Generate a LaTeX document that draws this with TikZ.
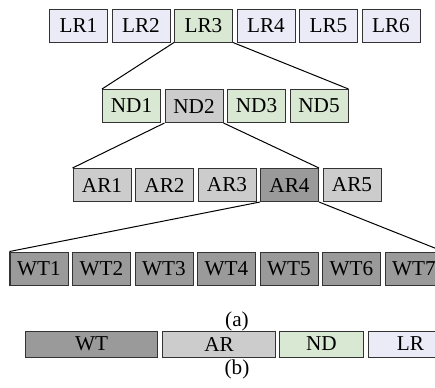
\documentclass[tikz,border=0pt]{standalone}
\usepackage{fontspec}
\setmainfont{Liberation Serif}
\definecolor{lrfill}{HTML}{EBEBF7}
\definecolor{ndfill}{HTML}{D8E8D2}
\definecolor{arfill}{HTML}{CCCCCC}
\definecolor{wtfill}{HTML}{9A9A9A}

\begin{document}
\begin{tikzpicture}[x=0.5pt,y=-0.5pt,line width=0.5pt]
          \tikzstyle{every node}=[font=\fontsize{10.6}{12}\selectfont]
          \tikzstyle{blk}=[draw=black!80,inner sep=0pt,minimum width=29pt,minimum height=16.5pt,node distance=31.25pt]
          \tikzstyle{lr}=[blk,fill=lrfill]
          \tikzstyle{nd}=[blk,fill=ndfill]
          \tikzstyle{ar}=[blk,fill=arfill]
          \tikzstyle{wt}=[blk,fill=wtfill]
          \tikzstyle{key}=[draw=black!80,inner sep=0pt,minimum height=13pt,anchor=west]
          \useasboundingbox (0,0) rectangle (435,387);
          \clip (0,0) rectangle (435,387);
          % 
          \node [lr] (lr1) at (78.5,25.5) {LR1};
          \node [lr] (lr2) [right of=lr1] {LR2};
          \node [nd] (lr3) [right of=lr2] {LR3};
          \node [lr] (lr4) [right of=lr3] {LR4};
          \node [lr] (lr5) [right of=lr4] {LR5};
          \node [lr] (lr6) [right of=lr5] {LR6};
          % 
          \node [nd] (nd1) at (131.5,106) {ND1};
          \node [ar] (nd2) [right of=nd1] {ND2};
          \node [nd] (nd3) [right of=nd2] {ND3};
          \node [nd] (nd5) [right of=nd3] {ND5};
          % 
          \node [ar] (ar1) at (102,185) {AR1};
          \node [ar] (ar2) [right of=ar1] {AR2};
          \node [ar] (ar3) [right of=ar2] {AR3};
          \node [wt] (ar4) [right of=ar3] {AR4};
          \node [ar] (ar5) [right of=ar4] {AR5};
          % 
          \node [wt] (wt1) at (39,268.5) {WT1};
          \node [wt] (wt2) [right of=wt1] {WT2};
          \node [wt] (wt3) [right of=wt2] {WT3};
          \node [wt] (wt4) [right of=wt3] {WT4};
          \node [wt] (wt5) [right of=wt4] {WT5};
          \node [wt] (wt6) [right of=wt5] {WT6};
          \node [wt] (wt7) [right of=wt6] {WT7};
          % 
          \path[draw]
          (lr3.south west) edge (nd1.north west)
          (lr3.south east) edge (nd5.north east)
          (nd2.south west) edge (ar1.north west)
          (nd2.south east) edge (ar4.north east)
          (ar4.south west) edge (wt1.north west)
          (ar4.south east) edge (wt7.north east);
          % 
          \node (capa) at (237,321) {(a)};
          \node [key,fill=wtfill,minimum width=66pt] (kwt) at (25,344) {WT};
          \node [key,fill=arfill,minimum width=56.5pt] (kar) at (162,344) {AR};
          \node [key,fill=ndfill,minimum width=42pt] (knd) at (279,344) {ND};
          \node [key,fill=lrfill,minimum width=42pt] (klr) at (368,344) {LR};
          \node (capb) at (237,369) {(b)};
        \end{tikzpicture}
\end{document}
